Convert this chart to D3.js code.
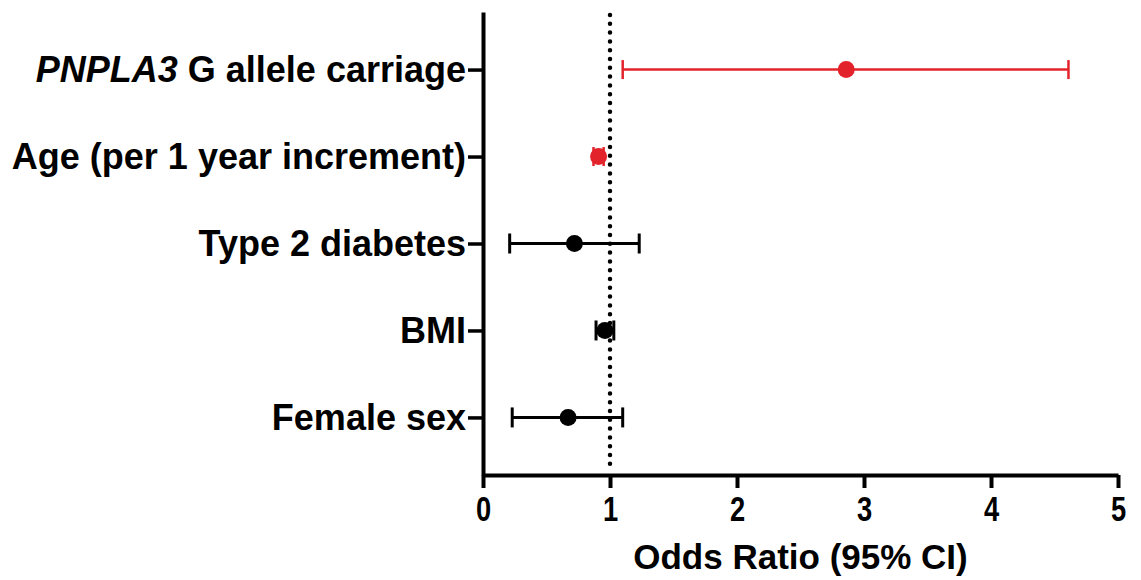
<!DOCTYPE html>
<html>
<head>
<meta charset="utf-8">
<script src="https://cdn.jsdelivr.net/npm/d3@7"></script>
<style>
  body { margin: 0; background: #fff; }
  svg { display: block; }
</style>
</head>
<body>
<svg id="forest" width="1141" height="580"></svg>
<script>
// values
const labels = [
  "PNPLA3 G allele carriage",
  "Age (per 1 year increment)",
  "Type 2 diabetes",
  "BMI",
  "Female sex"
];
const oddsRatio = [2.86, 0.91, 0.72, 0.96, 0.67];
const ciLower = [1.10, 0.87, 0.21, 0.89, 0.23];
const ciUpper = [4.61, 0.95, 1.23, 1.03, 1.10];
const significant = [true, true, false, false, false];
const xTicks = [0, 1, 2, 3, 4, 5];

const data = labels.map((label, i) => ({
  label,
  or: oddsRatio[i],
  lo: ciLower[i],
  hi: ciUpper[i],
  sig: significant[i]
}));

const svg = d3.select("#forest");
const margin = { top: 12, right: 23, bottom: 105, left: 483 };
const width = 1141 - margin.left - margin.right;
const height = 580 - margin.top - margin.bottom;

const RED = "#e3232b";
const font = "'Liberation Sans', Arial, Helvetica, sans-serif";

const g = svg.append("g").attr("transform", `translate(${margin.left},${margin.top})`);

const x = d3.scaleLinear().domain([0, 5]).range([0, width]);
const y = d3.scalePoint().domain(labels).range([0, height]).padding(0.662);

// y axis
const yAxis = g.append("g")
  .call(d3.axisLeft(y).tickSize(15).tickSizeOuter(0).tickPadding(2));
yAxis.select(".domain").attr("stroke-width", 4);
yAxis.selectAll(".tick line").attr("stroke-width", 3.5);
yAxis.selectAll(".tick text")
  .attr("font-family", font)
  .attr("font-weight", "bold")
  .attr("font-size", 36)
  .attr("fill", "#000")
  .attr("dy", "0.34em");

// italic gene name on the first label
yAxis.selectAll(".tick text").filter(d => d === labels[0])
  .text(null)
  .call(t => {
    t.append("tspan").attr("font-style", "italic").text("PNPLA3");
    t.append("tspan").text(" G allele carriage");
  });

// x axis
const xAxis = g.append("g")
  .attr("transform", `translate(0,${height})`)
  .call(d3.axisBottom(x).tickValues(xTicks).tickFormat(d3.format("d"))
    .tickSize(13).tickSizeOuter(0).tickPadding(8));
xAxis.select(".domain").attr("stroke-width", 4);
xAxis.selectAll(".tick line").attr("stroke-width", 4);
xAxis.selectAll(".tick text")
  .attr("font-family", font)
  .attr("font-weight", "bold")
  .attr("font-size", 35)
  .attr("fill", "#000")
  .attr("transform", "scale(0.78,1)"); // condensed digits as in the figure

g.append("text")
  .attr("x", width / 2)
  .attr("y", height + 94)
  .attr("text-anchor", "middle")
  .attr("font-family", font)
  .attr("font-weight", "bold")
  .attr("font-size", 35)
  .text("Odds Ratio (95% CI)");

// error bars
const rows = g.selectAll(".row").data(data).join("g").attr("class", "row");
rows.append("line")
  .attr("x1", d => x(d.lo)).attr("x2", d => x(d.hi))
  .attr("y1", d => y(d.label)).attr("y2", d => y(d.label))
  .attr("stroke", d => d.sig ? RED : "#000")
  .attr("stroke-width", d => d.sig ? 2.5 : 3);
["lo", "hi"].forEach(k => {
  rows.append("line")
    .attr("x1", d => x(d[k])).attr("x2", d => x(d[k]))
    .attr("y1", d => y(d.label) - (d.sig ? 9.5 : 10))
    .attr("y2", d => y(d.label) + (d.sig ? 9.5 : 10))
    .attr("stroke", d => d.sig ? RED : "#000")
    .attr("stroke-width", d => d.sig ? 2.5 : 3);
});
rows.append("circle")
  .attr("cx", d => x(d.or))
  .attr("cy", d => y(d.label))
  .attr("r", 8.5)
  .attr("fill", d => d.sig ? RED : "#000");

// reference line at OR = 1
g.append("line")
  .attr("x1", x(1)).attr("x2", x(1))
  .attr("y1", 3).attr("y2", height - 4)
  .attr("stroke", "#000")
  .attr("stroke-width", 4.5)
  .attr("stroke-linecap", "round")
  .attr("stroke-dasharray", "0,8.8");
</script>
</body>
</html>
